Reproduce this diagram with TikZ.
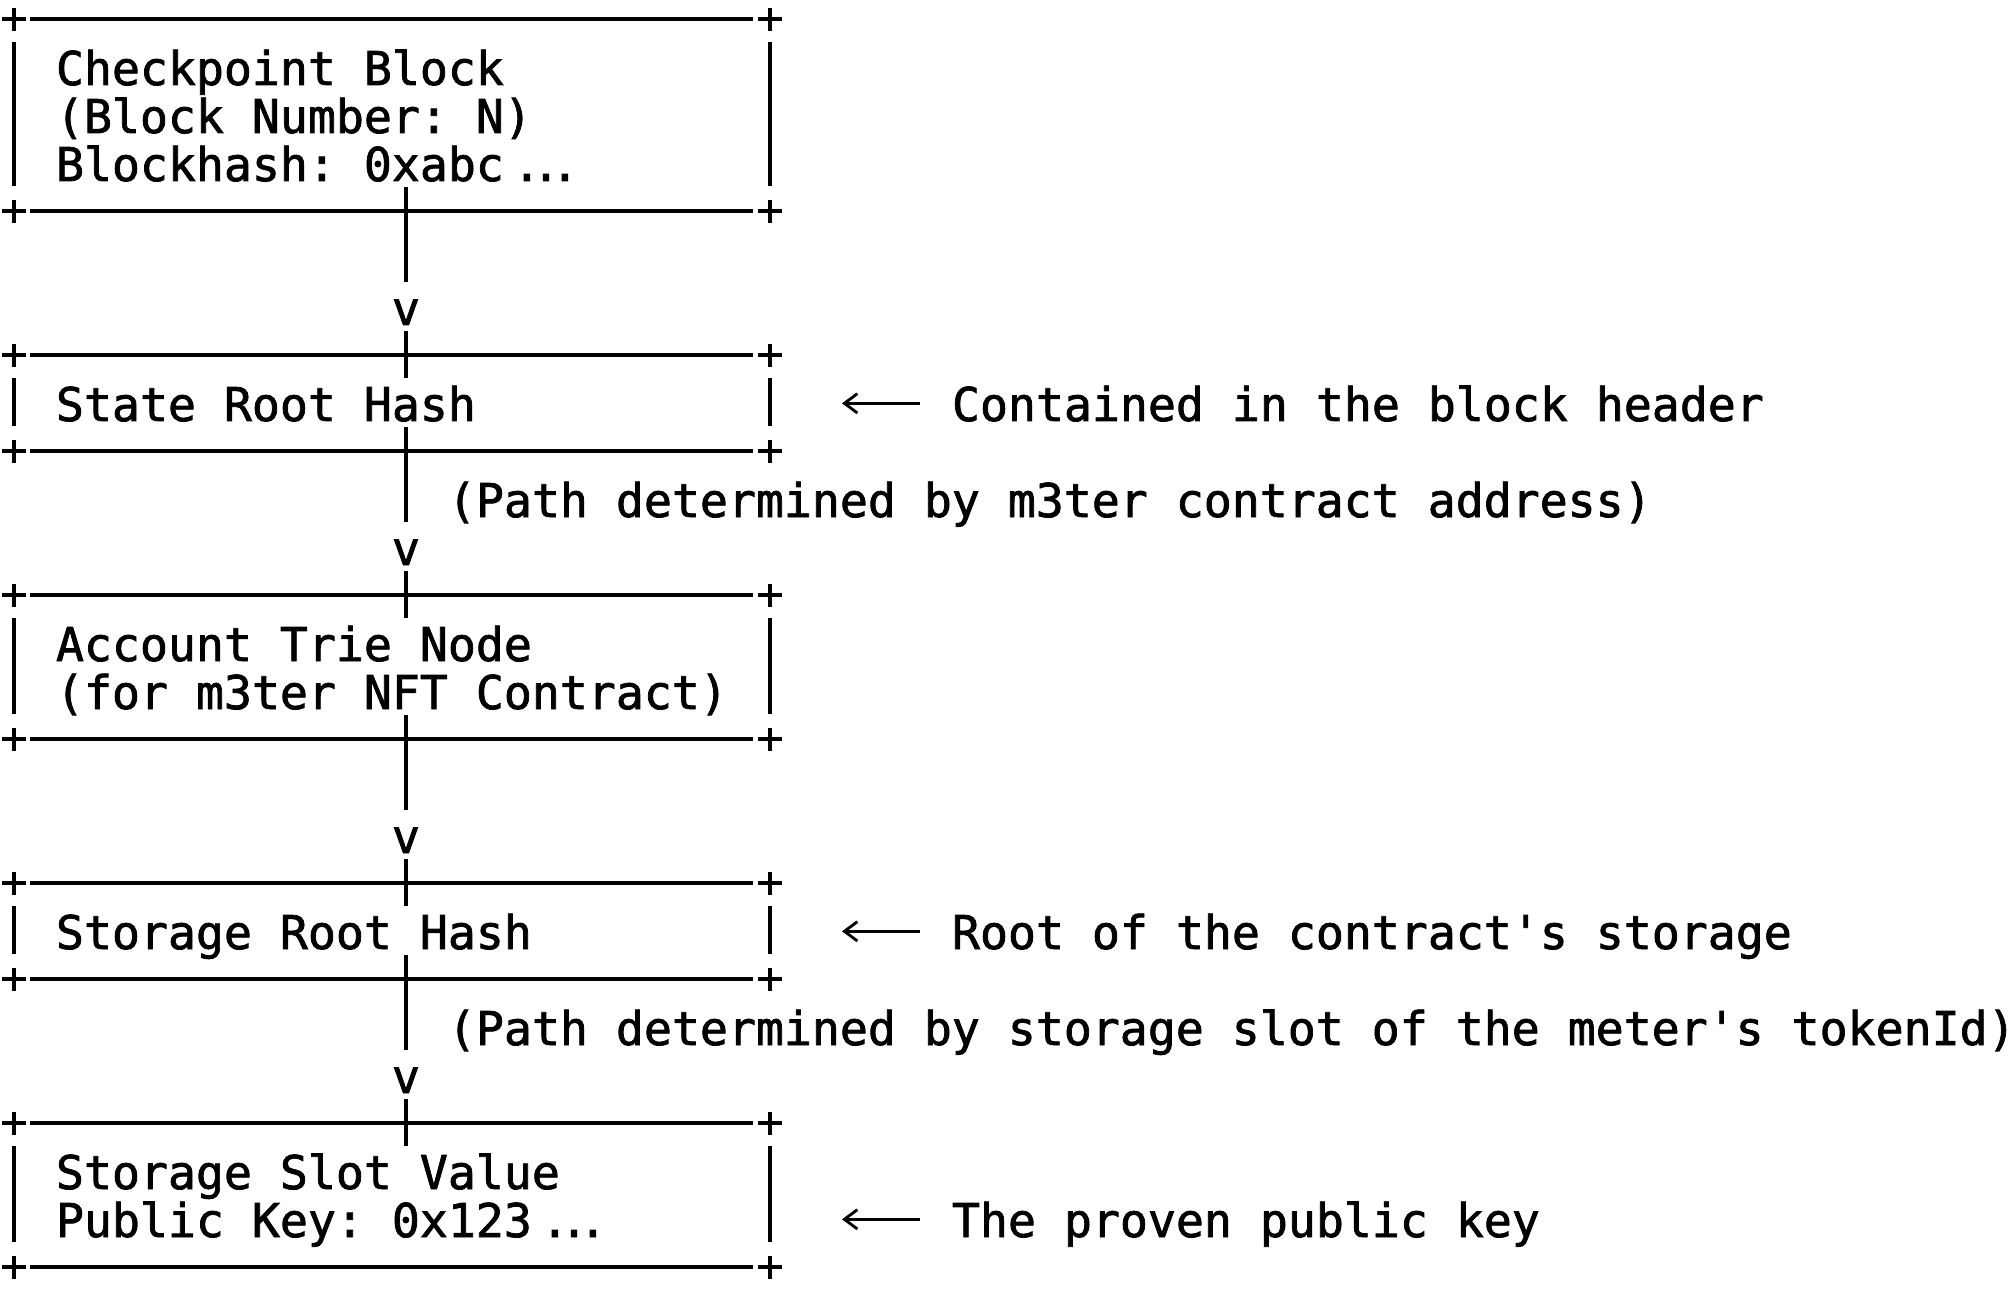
\documentclass[tikz,border=0pt]{standalone}
\usepackage{fontspec}
\setmonofont[FakeBold=1.6]{DejaVu Sans Mono}
\usetikzlibrary{arrows.meta}
\tikzset{
  txt/.style={inner sep=0pt, outer sep=0pt, anchor=base west, font=\ttfamily\fontsize{13.95}{14.4}\selectfont},
  vtip/.style={txt, anchor=base},
  boxarea/.style={inner sep=0pt, outer sep=0pt, anchor=north west, minimum width=226.8pt, draw=none},
  hline/.style={line width=1.2pt, line cap=butt},
  vline/.style={line width=1.35pt, line cap=butt},
  larrow/.style={line width=0.85pt, -{Straight Barb[length=3.9pt,width=5.8pt]}},
}
% ASCII-style frame around a box node
\newcommand\asciiframe[1]{%
  \draw[hline] ([xshift=4.8pt]#1.north west) -- ([xshift=-5.1pt]#1.north east);
  \draw[hline] ([xshift=4.8pt]#1.south west) -- ([xshift=-5.1pt]#1.south east);
  \foreach \a in {north west,north east,south west,south east}{%
    \draw[hline] ([xshift=-3.5pt]#1.\a) -- ([xshift=3.5pt]#1.\a);
    \draw[vline] ([yshift=-3.5pt]#1.\a) -- ([yshift=3.5pt]#1.\a);
  }
  \draw[vline] ([yshift=-6.9pt]#1.north west) -- ([yshift=7.5pt]#1.south west);
  \draw[vline] ([yshift=-6.9pt]#1.north east) -- ([yshift=7.5pt]#1.south east);
}
% ASCII-style connector from one box to the next
\newcommand\asciiconn[2]{%
  \draw[vline] ([xshift=4.2pt,yshift=7.2pt]#1.south) -- ([xshift=4.2pt,yshift=-21.3pt]#1.south);
  \draw[vline] ([xshift=4.2pt,yshift=7.2pt]#2.north) -- ([xshift=4.2pt,yshift=-6.9pt]#2.north);
}
\begin{document}
\begin{tikzpicture}[x=0.3pt, y=-0.3pt]
\fill[white] (0,0) rectangle (2016,1296);
\useasboundingbox (0,0) rectangle (2016,1296);

% box areas
\node[boxarea, minimum height=57.6pt] (A) at (14,19.3) {};
\node[boxarea, minimum height=28.8pt] (B) at (14,355.3) {};
\node[boxarea, minimum height=43.2pt] (C) at (14,595.3) {};
\node[boxarea, minimum height=28.8pt] (D) at (14,883.3) {};
\node[boxarea, minimum height=43.2pt] (E) at (14,1123.3) {};

\asciiframe{A}
\asciiframe{B}
\asciiframe{C}
\asciiframe{D}
\asciiframe{E}

% box texts
\node[txt] (a1) at (56,85) {Checkpoint Block};
\node[txt] (a2) at (56,133) {(Block Number: N)};
\node[txt] (a3) at (56,181) {Blockhash: 0xabc};
\node[txt] (a3d) at (513,181) {.\kern-2.7pt.\kern-2.7pt.};
\node[txt] (b1) at (56,421) {State Root Hash};
\node[txt] (c1) at (56,661) {Account Trie Node};
\node[txt] (c2) at (56,709) {(for m3ter NFT Contract)};
\node[txt] (d1) at (56,949) {Storage Root Hash};
\node[txt] (e1) at (56,1189) {Storage Slot Value};
\node[txt] (e2) at (56,1237) {Public Key: 0x123};
\node[txt] (e2d) at (541,1237) {.\kern-2.7pt.\kern-2.7pt.};

% connectors
\asciiconn{A}{B}
\node[vtip] (vAB) at (406,325) {v};
\asciiconn{B}{C}
\node[vtip] (vBC) at (406,565) {v};
\node[txt] (pBC) at (448,517) {(Path determined by m3ter contract address)};
\asciiconn{C}{D}
\node[vtip] (vCD) at (406,853) {v};
\asciiconn{D}{E}
\node[vtip] (vDE) at (406,1093) {v};
\node[txt] (pDE) at (448,1045) {(Path determined by storage slot of the meter\textquotesingle s tokenId)};

% side notes
\node[txt] (nB) at (952,421) {Contained in the block header};
\node[txt] (nD) at (952,949) {Root of the contract\textquotesingle s storage};
\node[txt] (nE) at (952,1237) {The proven public key};
\draw[larrow] ([xshift=-9.6pt,yshift=5.3pt]nB.base west) -- ([xshift=-33pt,yshift=5.3pt]nB.base west);
\draw[larrow] ([xshift=-9.6pt,yshift=5.3pt]nD.base west) -- ([xshift=-33pt,yshift=5.3pt]nD.base west);
\draw[larrow] ([xshift=-9.6pt,yshift=5.3pt]nE.base west) -- ([xshift=-33pt,yshift=5.3pt]nE.base west);
\end{tikzpicture}
\end{document}
